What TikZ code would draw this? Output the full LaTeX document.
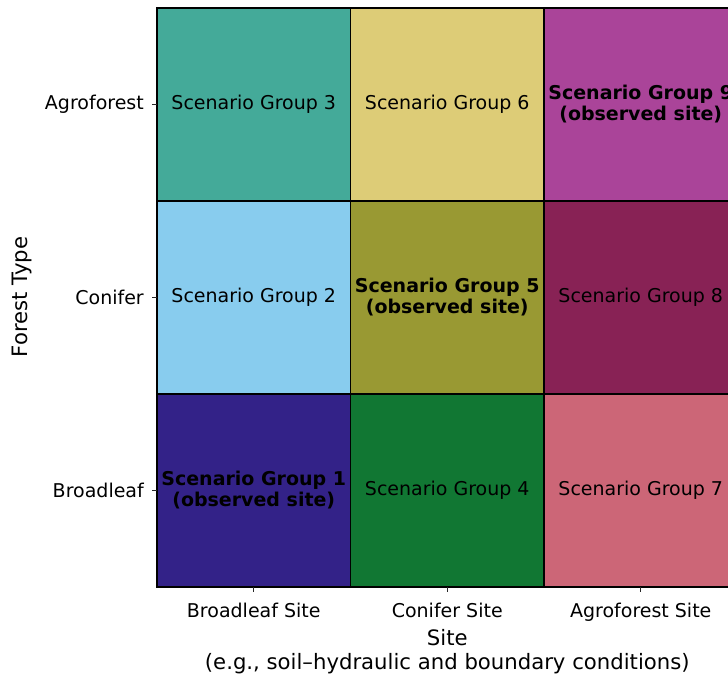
\documentclass[tikz,border=0pt]{standalone}
\usepackage{fontspec}
\setmainfont{DejaVu Sans}
\usetikzlibrary{positioning}

% muted palette
\definecolor{cellindigo}{HTML}{332288}
\definecolor{cellgreen}{HTML}{117733}
\definecolor{cellrose}{HTML}{CC6677}
\definecolor{cellcyan}{HTML}{88CCEE}
\definecolor{cellolive}{HTML}{999933}
\definecolor{cellwine}{HTML}{882255}
\definecolor{cellteal}{HTML}{44AA99}
\definecolor{cellsand}{HTML}{DDCC77}
\definecolor{cellpurple}{HTML}{AA4499}

\begin{document}
\begin{tikzpicture}[
        x=1pt, y=1pt,
        node distance=0pt,
        cell/.style={rectangle, draw=black, line width=1.5pt, outer sep=0pt, inner sep=0pt,
          minimum width=193.5pt, minimum height=193pt, align=center,
          font=\fontsize{19}{21}\selectfont},
        observed/.style={cell, font=\fontsize{19}{21}\selectfont\bfseries},
        tick/.style={line width=1.2pt, black!85},
        ticklabel/.style={inner sep=0pt, font=\fontsize{19}{23}\selectfont},
        axislabel/.style={inner sep=0pt, align=center, font=\fontsize{21.2}{24}\selectfont}
      ]
        \path[use as bounding box] (0,0) rectangle (728,675);
        \clip (0,0) rectangle (728,675);

        % Top row - Agroforest
        \node[cell, fill=cellteal] (ab) at (253.75,570.5) {Scenario Group 3};
        \node[cell, fill=cellsand, right=of ab] (ac) {Scenario Group 6};
        \node[observed, fill=cellpurple, right=of ac] (aa) {Scenario Group 9\\(observed site)};

        % Middle row - Conifer
        \node[cell, fill=cellcyan, below=of ab] (cb) {Scenario Group 2};
        \node[observed, fill=cellolive, right=of cb] (cc) {Scenario Group 5\\(observed site)};
        \node[cell, fill=cellwine, right=of cc] (ca) {Scenario Group 8};

        % Bottom row - Broadleaf
        \node[observed, fill=cellindigo, below=of cb] (bb) {Scenario Group 1\\(observed site)};
        \node[cell, fill=cellgreen, right=of bb] (bc) {Scenario Group 4};
        \node[cell, fill=cellrose, right=of bc] (ba) {Scenario Group 7};

        % x ticks
        \draw[tick] (bb.south) -- ++(0,-5);
        \draw[tick] (bc.south) -- ++(0,-5);
        \draw[tick] (ba.south) -- ++(0,-5);
        \node[ticklabel, anchor=base] (xb) at (bb.south |- 0,58) {Broadleaf Site};
        \node[ticklabel, anchor=base] (xc) at (bc.south |- 0,58) {Conifer Site};
        \node[ticklabel, anchor=base] (xa) at (ba.south |- 0,58) {Agroforest Site};

        % y ticks
        \draw[tick] (ab.west) -- ++(-5,0);
        \draw[tick] (cb.west) -- ++(-5,0);
        \draw[tick] (bb.west) -- ++(-5,0);
        \node[ticklabel, anchor=east] (ya) at ([xshift=-13pt]ab.west) {Agroforest};
        \node[ticklabel, anchor=east] (yc) at ([xshift=-13pt]cb.west) {Conifer};
        \node[ticklabel, anchor=east] (yb) at ([xshift=-13pt]bb.west) {Broadleaf};

        % Axis labels
        \node[axislabel, anchor=base] (xlabel) at (bc.south |- 0,6) {Site\\(e.g., soil–hydraulic and boundary conditions)};
        \node[axislabel, rotate=90] (ylabel) at (22,378) {Forest Type};
      \end{tikzpicture}
\end{document}
